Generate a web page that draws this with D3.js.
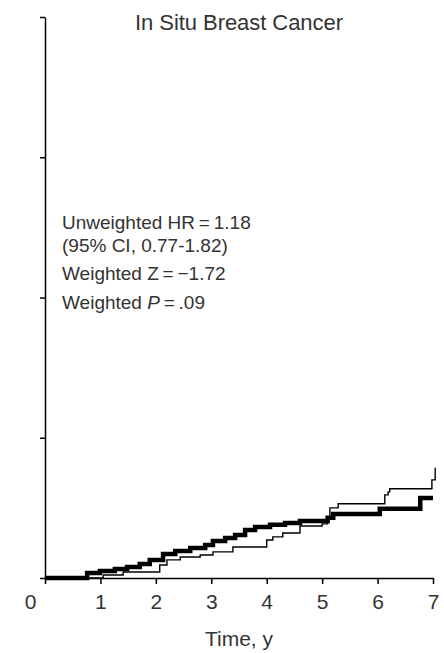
<!DOCTYPE html>
<html lang="en">
<head>
    <meta charset="UTF-8">
    <title>In Situ Breast Cancer</title>
    <script src="https://d3js.org/d3.v7.min.js"></script>
    <style>
        body {
            margin: 0;
            padding: 0;
            background-color: #fff;
            font-family: "Liberation Sans", Arial, sans-serif;
        }
        .label { fill: #333; }
    </style>
</head>
<body>
    <svg id="chart" width="444" height="653"></svg>

    <script>
        // time (years) and cumulative values for the two step curves
        var thickTime = [0, 0.76, 0.99, 1.26, 1.48, 1.71, 1.89, 2.13, 2.35, 2.62, 2.89, 3.03, 3.25, 3.43, 3.61, 3.79, 4.06, 4.33, 4.6, 5.1, 5.2, 6.04, 6.77, 7.0];
        var thickValue = [0, 0.036, 0.05, 0.064, 0.079, 0.1, 0.129, 0.171, 0.193, 0.214, 0.236, 0.264, 0.286, 0.307, 0.343, 0.364, 0.379, 0.393, 0.407, 0.429, 0.457, 0.493, 0.571, 0.571];

        var thinTime = [0, 1.05, 1.41, 2.07, 2.2, 2.44, 2.8, 3.03, 3.39, 4.0, 4.11, 4.29, 4.6, 5.0, 5.1, 5.14, 5.29, 6.13, 6.19, 6.22, 6.98, 7.04];
        var thinValue = [0, 0.021, 0.043, 0.093, 0.129, 0.15, 0.164, 0.186, 0.221, 0.271, 0.293, 0.321, 0.371, 0.386, 0.436, 0.5, 0.529, 0.593, 0.614, 0.636, 0.7, 0.786];

        var xTicks = [0, 1, 2, 3, 4, 5, 6, 7];
        var yTicks = [0, 1, 2, 3, 4];

        var notes = ["Unweighted HR\u2009=\u20091.18", "(95% CI, 0.77-1.82)", "Weighted Z\u2009=\u2009\u22121.72", "Weighted "];

        var svg = d3.select("#chart");

        var x = d3.scaleLinear().domain([0, 7]).range([45, 433]);
        var y = d3.scaleLinear().domain([0, 4]).range([578, 17]);

        // axes
        svg.append("g")
            .attr("transform", "translate(45,0)")
            .call(d3.axisLeft(y).tickValues(yTicks).tickSize(5).tickSizeOuter(0).tickFormat(""))
            .call(function (g) {
                g.select(".domain").attr("stroke-width", 1.5);
                g.selectAll(".tick line").attr("stroke-width", 1.5);
            });

        var xAxis = svg.append("g")
            .attr("transform", "translate(0,578)")
            .call(d3.axisBottom(x).tickValues(xTicks).tickSize(6).tickSizeOuter(0)
                .tickPadding(10).tickFormat(d3.format("d")));
        xAxis.select(".domain").attr("stroke-width", 1.5);
        xAxis.selectAll(".tick line").attr("stroke-width", 1.5);
        xAxis.selectAll(".tick text")
            .attr("class", "label")
            .attr("font-size", 21)
            .attr("font-family", "Liberation Sans, Arial, sans-serif")
            .attr("fill", "#444")
            .attr("dx", function (d) { return d === 0 ? -15 : 0; });

        // curves
        var line = d3.line().curve(d3.curveStepAfter);

        svg.append("path")
            .datum(thickTime.map(function (t, i) { return [x(t), y(thickValue[i])]; }))
            .attr("d", line)
            .attr("fill", "none")
            .attr("stroke", "#000")
            .attr("stroke-width", 4.5);

        svg.append("path")
            .datum(thinTime.map(function (t, i) { return [x(t), y(thinValue[i])]; }))
            .attr("d", line)
            .attr("fill", "none")
            .attr("stroke", "#000")
            .attr("stroke-width", 1.4);

        // texts
        svg.append("text")
            .attr("class", "label")
            .attr("x", 239).attr("y", 30)
            .attr("text-anchor", "middle")
            .attr("font-size", 22)
            .attr("textLength", 208)
            .text("In Situ Breast Cancer");

        svg.append("text")
            .attr("class", "label")
            .attr("x", 239).attr("y", 646)
            .attr("text-anchor", "middle")
            .attr("font-size", 21)
            .text("Time, y");

        var noteY = [229, 252, 280, 309];
        notes.forEach(function (s, i) {
            var t = svg.append("text")
                .attr("class", "label")
                .attr("x", 62).attr("y", noteY[i])
                .attr("font-size", 19)
                .text(s);
            if (i === 3) {
                t.append("tspan").attr("font-style", "italic").text("P");
                t.append("tspan").text("\u2009=\u2009.09");
            }
        });
    </script>
</body>
</html>
